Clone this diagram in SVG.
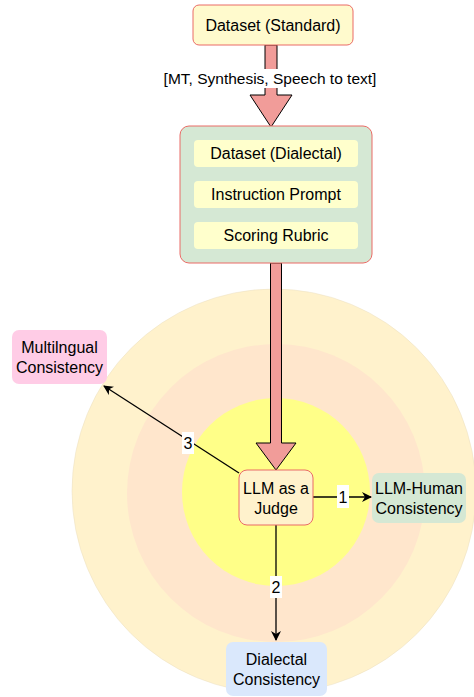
<svg xmlns="http://www.w3.org/2000/svg" width="474" height="697" viewBox="0 0 474 697">
<style>
text{font-family:"Liberation Sans",Arial,sans-serif;fill:#000;text-anchor:middle;dominant-baseline:central}
.t16{font-size:16px}
.t15{font-size:15.5px}
.fat{fill:#f19c99;stroke:#000;stroke-width:1}
.ln{stroke:#000;stroke-width:1.3;fill:none}
.lbl{fill:#fff}
</style>
<defs>
<marker id="ah" viewBox="0 0 10 10" refX="9" refY="5" markerWidth="10" markerHeight="10" markerUnits="userSpaceOnUse" orient="auto">
<path d="M0,0 L10,5 L0,10 L3,5 z" fill="#000"/>
</marker>
</defs>
<g id="rings">
<circle cx="274" cy="491" r="202" fill="#fff2cc" stroke="#eadfc0" stroke-width="0.5"/>
<circle cx="276" cy="493" r="149" fill="#ffe6cc"/>
<circle cx="276" cy="492" r="94" fill="#ffff88"/>
</g>
<g id="connectors">
<path class="fat" d="M265,45 L277,45 L277,95 L292,95 L271,127 L250,95 L265,95 Z"/>
<rect class="lbl" x="165" y="69" width="210" height="19"/>
<text class="t15" x="270" y="78.5">[MT, Synthesis, Speech to text]</text>
<path class="fat" d="M270.5,263 L281.5,263 L281.5,443 L296,443 L276,470 L256,443 L270.5,443 Z"/>
<line class="ln" x1="313" y1="497" x2="371" y2="497" marker-end="url(#ah)"/>
<rect class="lbl" x="337" y="485" width="12" height="23"/>
<text class="t16" x="343" y="497">1</text>
<line class="ln" x1="276" y1="525" x2="276" y2="640" marker-end="url(#ah)"/>
<rect class="lbl" x="270" y="576" width="12" height="22"/>
<text class="t16" x="276" y="587">2</text>
<line class="ln" x1="239" y1="473" x2="104" y2="386" marker-end="url(#ah)"/>
<rect class="lbl" x="182" y="432" width="12" height="22"/>
<text class="t16" x="188" y="443">3</text>
</g>
<g id="dataset-standard">
<rect x="193" y="5" width="160" height="40" rx="6" fill="#fffacd" stroke="#ea6b66" stroke-width="1"/>
<text class="t16" x="273" y="25">Dataset (Standard)</text>
</g>
<g id="inputs">
<rect x="180" y="126" width="192" height="137" rx="9" fill="#d5e8d4" stroke="#ea6b66" stroke-width="1"/>
</g>
<g id="dataset-dialectal">
<rect x="194" y="140" width="164" height="27" rx="4" fill="#ffffcc"/>
<text class="t16" x="276" y="153.5">Dataset (Dialectal)</text>
</g>
<g id="instruction-prompt">
<rect x="194" y="181" width="164" height="27" rx="4" fill="#ffffcc"/>
<text class="t16" x="276" y="194.5">Instruction Prompt</text>
</g>
<g id="scoring-rubric">
<rect x="194" y="222" width="164" height="27" rx="4" fill="#ffffcc"/>
<text class="t16" x="276" y="235.5">Scoring Rubric</text>
</g>
<g id="llm-judge">
<rect x="239" y="470" width="74" height="55" rx="8" fill="#fff2cc" stroke="#ea6b66" stroke-width="1"/>
<text class="t16" x="276" y="488">LLM as a</text>
<text class="t16" x="276" y="508">Judge</text>
</g>
<g id="llm-human">
<rect x="372" y="473" width="94" height="50" rx="7" fill="#d5e8d4"/>
<text class="t16" x="419" y="488">LLM-Human</text>
<text class="t16" x="419" y="508">Consistency</text>
</g>
<g id="multilingual">
<rect x="12" y="330" width="95" height="54" rx="7" fill="#ffcce6"/>
<text class="t16" x="59.5" y="347">Multilngual</text>
<text class="t16" x="59.5" y="367">Consistency</text>
</g>
<g id="dialectal">
<rect x="226" y="642" width="101" height="54" rx="7" fill="#dae8fc"/>
<text class="t16" x="276.5" y="659">Dialectal</text>
<text class="t16" x="276.5" y="679">Consistency</text>
</g>
</svg>
